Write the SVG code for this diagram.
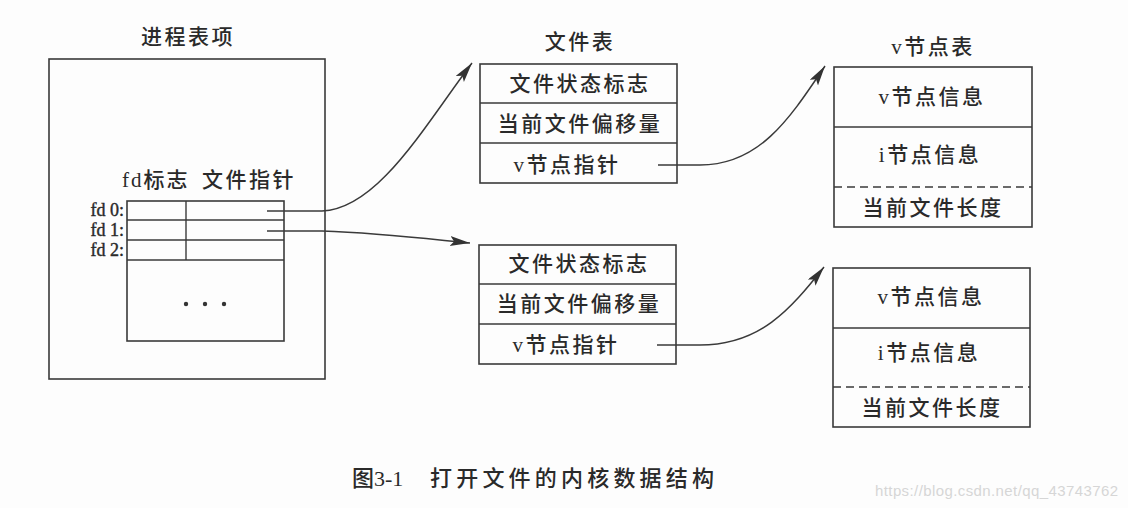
<svg xmlns="http://www.w3.org/2000/svg" width="1128" height="508" viewBox="0 0 1128 508">
<style>
.box{fill:none;stroke:#3a3a3a;stroke-width:1.6}
.ln{fill:none;stroke:#3a3a3a;stroke-width:1.4}
.dash{fill:none;stroke:#3a3a3a;stroke-width:1.4;stroke-dasharray:8,5}
.t{font-family:"Liberation Serif","Noto Sans CJK SC",serif;font-size:21px;font-weight:500;fill:#2a2a2a;text-anchor:middle;letter-spacing:2.5px}
.s{text-anchor:start}
.fd{font-family:"Liberation Serif",serif;font-size:18px;fill:#2a2a2a;text-anchor:end;stroke:#2a2a2a;stroke-width:0.4}
.con{fill:none;stroke:#3a3a3a;stroke-width:1.5}
.wm{font-family:"Liberation Sans",sans-serif;font-size:15px;fill:#d6d6d6}
</style>
<defs>
<marker id="ah" markerUnits="userSpaceOnUse" markerWidth="22" markerHeight="12" refX="20" refY="5" orient="auto">
<path d="M0,0 L20,5 L0,10 L4,5 z" fill="#333"/>
</marker>
</defs>
<rect width="1128" height="508" fill="#fdfdfd"/>

<g id="process-table">
<text class="t" x="188" y="44">进程表项</text>
<rect class="box" x="49" y="59" width="276" height="320"/>
<text class="t s" x="122" y="187" style="letter-spacing:2px">fd标志</text>
<text class="t s" x="202" y="187">文件指针</text>
<rect class="box" x="127" y="201" width="157" height="140"/>
<line class="ln" x1="127" y1="220" x2="284" y2="220"/>
<line class="ln" x1="127" y1="240" x2="284" y2="240"/>
<line class="ln" x1="127" y1="260" x2="284" y2="260"/>
<line class="ln" x1="186" y1="201" x2="186" y2="260"/>
<text class="fd" x="124" y="216">fd 0:</text>
<text class="fd" x="124" y="236">fd 1:</text>
<text class="fd" x="124" y="256">fd 2:</text>
<circle cx="186" cy="304" r="2.2" fill="#333"/>
<circle cx="205" cy="304" r="2.2" fill="#333"/>
<circle cx="224" cy="304" r="2.2" fill="#333"/>
</g>

<g id="file-table-1">
<text class="t" x="580" y="49">文件表</text>
<rect class="box" x="480" y="64" width="197" height="119"/>
<line class="ln" x1="480" y1="103" x2="677" y2="103"/>
<line class="ln" x1="480" y1="143" x2="677" y2="143"/>
<text class="t" x="580" y="91">文件状态标志</text>
<text class="t" x="580" y="131">当前文件偏移量</text>
<text class="t" x="567" y="172">v节点指针</text>
</g>

<g id="file-table-2">
<rect class="box" x="479" y="245" width="197" height="119"/>
<line class="ln" x1="479" y1="284" x2="676" y2="284"/>
<line class="ln" x1="479" y1="324" x2="676" y2="324"/>
<text class="t" x="579" y="271">文件状态标志</text>
<text class="t" x="579" y="311">当前文件偏移量</text>
<text class="t" x="566" y="352">v节点指针</text>
</g>

<g id="vnode-table-1">
<text class="t" x="933" y="54">v节点表</text>
<rect class="box" x="834" y="67" width="198" height="160"/>
<line class="ln" x1="834" y1="127" x2="1032" y2="127"/>
<line class="dash" x1="834" y1="187" x2="1032" y2="187"/>
<text class="t" x="932" y="104">v节点信息</text>
<text class="t" x="930" y="162">i节点信息</text>
<text class="t" x="933" y="215">当前文件长度</text>
</g>

<g id="vnode-table-2">
<rect class="box" x="833" y="268" width="197" height="159"/>
<line class="ln" x1="833" y1="328" x2="1030" y2="328"/>
<line class="dash" x1="833" y1="387" x2="1030" y2="387"/>
<text class="t" x="931" y="304">v节点信息</text>
<text class="t" x="929" y="360">i节点信息</text>
<text class="t" x="932" y="415">当前文件长度</text>
</g>

<g id="connectors">
<path class="con" marker-end="url(#ah)" d="M267,211 H322 C378,209 425,125 472,63"/>
<path class="con" marker-end="url(#ah)" d="M267,231 H322 C380,233 420,238 470,243"/>
<path class="con" marker-end="url(#ah)" d="M658,165 H700 C760,165 790,118 825,66"/>
<path class="con" marker-end="url(#ah)" d="M657,345 H700 C760,345 790,310 824,267"/>
</g>

<g id="caption">
<text class="t s" x="352" y="486" style="font-size:22px;letter-spacing:0">图3-1</text>
<text class="t s" x="430" y="486" style="font-size:22px;letter-spacing:4.2px">打开文件的内核数据结构</text>
<text class="wm" x="875" y="496" textLength="243">https://blog.csdn.net/qq_43743762</text>
</g>
</svg>
